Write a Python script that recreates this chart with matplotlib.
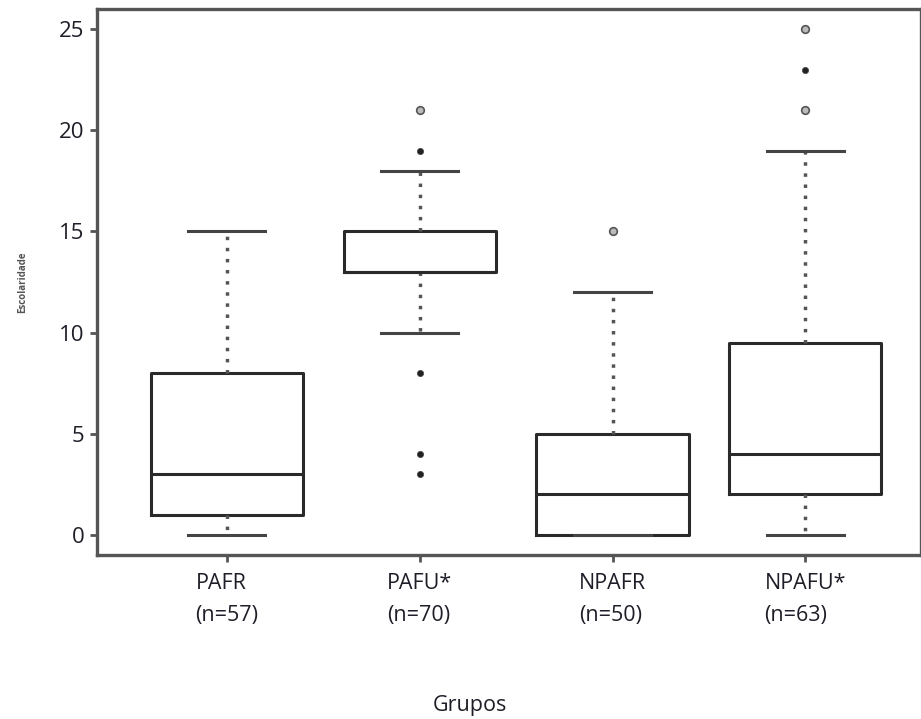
import matplotlib
matplotlib.use("Agg")
import matplotlib.pyplot as plt

# Grupos e resumo dos boxplots
groups = ["PAFR", "PAFU*", "NPAFR", "NPAFU*"]
n_values = [57, 70, 50, 63]
q1 = [1, 13, 0, 2]
median = [3, 13, 2, 4]
q3 = [8, 15, 5, 9.5]
whisker_low = [0, 10, 0, 0]
whisker_high = [15, 18, 12, 19]
# outliers: círculos abertos (cinza) e pontos cheios
outliers_open = [[], [21], [15], [21, 25]]
outliers_filled = [[], [19, 8, 4, 3], [], [23]]

yticks = [0, 5, 10, 15, 20, 25]

plt.rcParams['font.family'] = ['Open Sans', 'DejaVu Sans']

fig = plt.figure(figsize=(9.21, 7.19), dpi=100)
ax = fig.add_axes([0.1053, 0.228, 0.8947, 0.7595])

stats = []
for i, g in enumerate(groups):
    stats.append({
        "label": f"{g}\n(n={n_values[i]})",
        "q1": q1[i], "med": median[i], "q3": q3[i],
        "whislo": whisker_low[i], "whishi": whisker_high[i],
        "fliers": [],
    })

ax.bxp(stats, widths=0.79, showfliers=False,
       boxprops=dict(color="#2a2a2a", linewidth=2.2),
       medianprops=dict(color="#2a2a2a", linewidth=2.2),
       whiskerprops=dict(color="#555555", linewidth=2.5, linestyle=(0, (1, 2.2))),
       capprops=dict(color="#444444", linewidth=2.2),
       capwidths=0.4)

for i in range(len(groups)):
    x = i + 1
    if outliers_open[i]:
        ax.plot([x] * len(outliers_open[i]), outliers_open[i], "o", ms=5.5,
                mfc="#bbbbbb", mec="#555555", mew=1.2, zorder=3)
    if outliers_filled[i]:
        ax.plot([x] * len(outliers_filled[i]), outliers_filled[i], "o", ms=4.5,
                mfc="#222222", mec="#444444", mew=0.5, zorder=3)

ax.set_xlim(0.326, 4.60)
ax.set_ylim(-1.0, 26.0)
ax.set_yticks(yticks)
ax.tick_params(axis="both", direction="out", length=5, width=2, color="#555555",
               labelcolor="#1e1e28")
ax.tick_params(axis="y", labelsize=16, pad=4)
ax.tick_params(axis="x", labelsize=15.5, pad=8)
for lbl in ax.get_xticklabels():
    lbl.set_multialignment("left")
    lbl.set_linespacing(1.7)

for side in ["left", "bottom", "top", "right"]:
    ax.spines[side].set_color("#555555")
    ax.spines[side].set_linewidth(2.4)

ax.set_ylabel("Escolaridade", fontsize=7, color="#555555", fontweight="bold", labelpad=22)
fig.text(0.51, 0.004, "Grupos", ha="center", va="bottom", fontsize=15.5, color="#1e1e28")

fig.savefig("out.png", dpi=100)
